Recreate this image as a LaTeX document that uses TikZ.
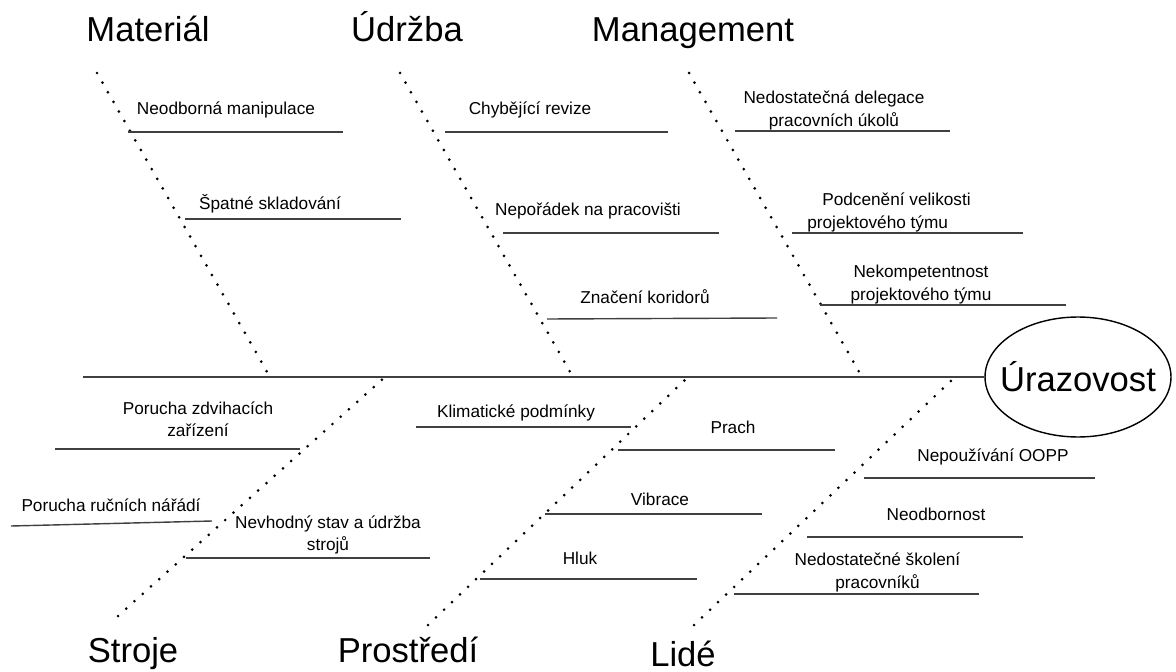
\documentclass[tikz,border=0pt]{standalone}
\usepackage{fontspec}
\setmainfont{Liberation Sans}
\usetikzlibrary{shapes.geometric}

\begin{document}
\begin{tikzpicture}[x=0.02cm, y=-0.02cm,
        bone/.style={line width=1.7pt, line cap=round, dash pattern=on 0pt off 6.3pt},
        rib/.style={line width=0.8pt, black!75},
        cause/.style={font=\fontsize{9.8}{12.6}\selectfont, align=center, inner sep=0pt},
        heading/.style={font=\fontsize{19.7}{23}\selectfont, inner sep=0pt, anchor=base}]
            \useasboundingbox (0,0) rectangle (1176,672);
            % spine and head
            \node [ellipse, draw, line width=0.8pt, inner sep=0pt, minimum width=3.72cm, minimum height=2.4cm,
                   font=\fontsize{19.7}{23}\selectfont] (injury) at (1078,377) {\makebox[2.2cm]{Úrazovost}};
            \coordinate (tail) at (83,377);
            \draw [rib] (tail) -- (injury.west);
            % bones
            \coordinate (matTop) at (97,73);   \coordinate (matFoot) at (270,377);
            \coordinate (udrTop) at (400,73);  \coordinate (udrFoot) at (573,377);
            \coordinate (manTop) at (689,73);  \coordinate (manFoot) at (862,377);
            \coordinate (strFoot) at (118,616); \coordinate (strTop) at (385,377);
            \coordinate (proFoot) at (428,625); \coordinate (proTop) at (688,377);
            \coordinate (lidFoot) at (694,625); \coordinate (lidTop) at (955,377);
            \draw [bone] (matTop) -- (matFoot);
            \draw [bone] (udrTop) -- (udrFoot);
            \draw [bone] (manTop) -- (manFoot);
            \draw [bone] (strFoot) -- (strTop);
            \draw [bone] (proFoot) -- (proTop);
            \draw [bone] (lidFoot) -- (lidTop);
            % headings
            \node [heading] (material) at (148,42) {Materiál};
            \node [heading] (udrzba) at (407,42) {Údržba};
            \node [heading] (management) at (693,42) {Management};
            \node [heading] (stroje) at (133,662) {Stroje};
            \node [heading] (prostredi) at (408,662) {Prostředí};
            \node [heading] (lide) at (683,666) {Lidé};
            % Material
            \draw [rib] (128,132) -- (343,132);
            \node [cause] (manipulace) at (226,110) {Neodborná manipulace};
            \draw [rib] (185,219) -- (401,219);
            \node [cause] (skladovani) at (270,204) {Špatné skladování};
            % Udrzba
            \draw [rib] (445,132) -- (668,132);
            \node [cause] (revize) at (530,110) {Chybějící revize};
            \draw [rib] (503,233) -- (719,233);
            \node [cause] (neporadek) at (588,211) {Nepořádek na pracovišti};
            \draw [rib] (547,319) -- (777,318);
            \node [cause] (koridory) at (645,297) {Značení koridorů};
            % Management
            \draw [rib] (735,131) -- (950,131);
            \node [cause] (delegace) at (834,110.5) {Nedostatečná delegace\\pracovních úkolů};
            \draw [rib] (792,233) -- (1023,233);
            \node [cause, align=left, anchor=west] (podceneni) at (807,212.5) {\hspace*{0.3cm}Podcenění velikosti\\projektového týmu};
            \draw [rib] (820,305) -- (1066,305);
            \node [cause] (kompetence) at (921,284.5) {Nekompetentnost\\projektového týmu};
            % Stroje
            \draw [rib] (55,449) -- (300,449);
            \node [cause] (zdvihaci) at (198,419.5) {Porucha zdvihacích\\zařízení};
            \draw [rib] (11,526) -- (212,521);
            \node [cause] (naradi) at (111,505) {Porucha ručních nářádí};
            \draw [rib] (186,558) -- (430,558);
            \node [cause] (stav) at (328,535) {Nevhodný stav a údržba\\strojů};
            % Prostredi
            \draw [rib] (416,427) -- (631,427);
            \node [cause] (klima) at (516,413) {Klimatické podmínky};
            \draw [rib] (618,450) -- (835,450);
            \node [cause] (prach) at (733,427) {Prach};
            \draw [rib] (545,514) -- (762,514);
            \node [cause] (vibrace) at (660,499) {Vibrace};
            \draw [rib] (480,579) -- (697,579);
            \node [cause] (hluk) at (580,558) {Hluk};
            % Lide
            \draw [rib] (864,478) -- (1095,478);
            \node [cause] (oopp) at (993,457) {Nepoužívání OOPP};
            \draw [rib] (807,537) -- (1023,537);
            \node [cause] (neodbornost) at (936,514) {Neodbornost};
            \draw [rib] (734,594) -- (979,594);
            \node [cause] (skoleni) at (877.5,572.5) {Nedostatečné školení\\pracovníků};
        \end{tikzpicture}
\end{document}
